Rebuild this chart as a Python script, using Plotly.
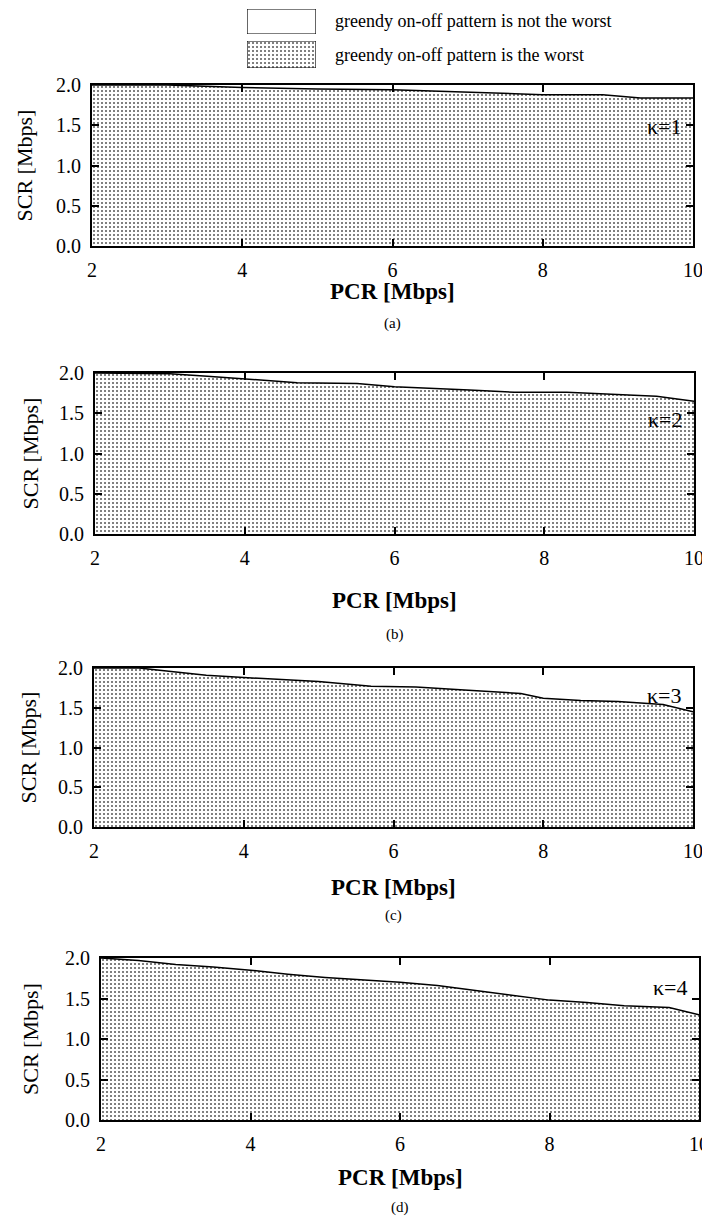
import plotly.graph_objects as go

# ---- data ----
pcr_a = [2, 3, 4, 5, 6, 7, 8, 8.8, 9.3, 10]
scr_a = [2.0, 2.0, 1.97, 1.95, 1.94, 1.91, 1.88, 1.88, 1.84, 1.84]

pcr_b = [2, 3, 3.5, 4, 4.7, 5.5, 6, 7, 7.6, 8.3, 9, 9.5, 10]
scr_b = [2.0, 1.99, 1.96, 1.93, 1.88, 1.87, 1.83, 1.79, 1.76, 1.76, 1.73, 1.71, 1.65]

pcr_c = [2, 2.6, 3, 3.5, 4, 5, 5.7, 6.3, 7, 7.7, 8, 8.5, 9, 9.6, 10]
scr_c = [2.0, 2.0, 1.96, 1.91, 1.88, 1.83, 1.77, 1.76, 1.72, 1.68, 1.62, 1.59, 1.58, 1.54, 1.45]

pcr_d = [2, 2.5, 3, 3.5, 4, 4.5, 5, 6, 6.5, 7, 7.5, 8, 8.5, 9, 9.6, 10]
scr_d = [2.0, 1.97, 1.92, 1.89, 1.85, 1.80, 1.76, 1.70, 1.66, 1.60, 1.54, 1.48, 1.45, 1.41, 1.39, 1.30]

kappa_labels = ["κ=1", "κ=2", "κ=3", "κ=4"]
kappa_y = [1.48, 1.42, 1.66, 1.63]
panel_labels = ["(a)", "(b)", "(c)", "(d)"]
x_ticks = [2, 4, 6, 8, 10]
y_ticks = [0.0, 0.5, 1.0, 1.5, 2.0]
y_ticktext = ["0.0", "0.5", "1.0", "1.5", "2.0"]
legend_labels = ["greendy on-off pattern is not the worst",
                 "greendy on-off pattern is the worst"]

# ---- layout geometry (page pixels; the page body has an 8px margin) ----
OFF = 8
W, H = 710 - OFF, 1223 - OFF
FONT = "Liberation Serif"


def px(xp):
    return min(1.0, max(0.0, (xp - OFF) / W))


def py(yp):
    return min(1.0, max(0.0, 1 - (yp - OFF) / H))


# pixel boxes (left, right, top, bottom) in page coordinates
boxes = [(92, 693, 85, 246), (95, 694, 373, 534), (94, 693, 668, 827), (101, 699, 958, 1120)]
xtitle_y = [291, 600, 887, 1177]
plabel_y = [323, 634, 915, 1207]
ytitle_x = [24, 30, 28, 30]

series = [(pcr_a, scr_a), (pcr_b, scr_b), (pcr_c, scr_c), (pcr_d, scr_d)]

pattern = dict(shape=".", size=4, solidity=0.2, fgcolor="#555555", bgcolor="white")

fig = go.Figure()
annotations = []
layout_axes = {}

for i, ((xs, ys), (l, r, t, b)) in enumerate(zip(series, boxes)):
    n = "" if i == 0 else str(i + 1)
    xa, ya = "x" + n, "y" + n
    fig.add_trace(go.Scatter(
        x=xs, y=ys, xaxis=xa, yaxis=ya, mode="lines",
        line=dict(color="black", width=1.5),
        fill="tozeroy", fillcolor="white", fillpattern=pattern,
        showlegend=False, hoverinfo="skip"))
    layout_axes["xaxis" + n] = dict(
        domain=[px(l), px(r)], range=[2, 10], anchor=ya, automargin=False,
        tickvals=x_ticks, ticks="inside", ticklen=7, tickwidth=1.5,
        showline=True, linewidth=2, linecolor="black", mirror="ticks",
        showgrid=False, zeroline=False, tickcolor="black",
        tickfont=dict(family=FONT, size=20, color="black"),
        ticklabelstandoff=5)
    layout_axes["yaxis" + n] = dict(
        domain=[py(b), py(t)], range=[0, 2], anchor=xa, automargin=False,
        tickvals=y_ticks, ticktext=y_ticktext, ticks="inside", ticklen=7, tickwidth=1.5,
        showline=True, linewidth=2, linecolor="black", mirror="ticks",
        showgrid=False, zeroline=False, tickcolor="black",
        tickfont=dict(family=FONT, size=20, color="black"),
        ticklabelstandoff=5)
    # kappa label
    annotations.append(dict(
        x=9.88, y=kappa_y[i], xref=xa, yref=ya, text=kappa_labels[i],
        showarrow=False, xanchor="right", yanchor="middle",
        font=dict(family=FONT, size=22, color="black")))
    # x title
    annotations.append(dict(
        x=px((l + r) / 2), y=py(xtitle_y[i]), xref="paper", yref="paper",
        text="<b>PCR [Mbps]</b>", showarrow=False, xanchor="center", yanchor="middle",
        font=dict(family=FONT, size=23, color="black")))
    # panel label
    annotations.append(dict(
        x=px((l + r) / 2), y=py(plabel_y[i]), xref="paper", yref="paper",
        text=panel_labels[i], showarrow=False, xanchor="center", yanchor="middle",
        font=dict(family=FONT, size=15, color="black")))
    # y title
    annotations.append(dict(
        x=px(ytitle_x[i]), y=py((t + b) / 2), xref="paper", yref="paper",
        text="SCR [Mbps]", showarrow=False, textangle=-90,
        xanchor="center", yanchor="middle",
        font=dict(family=FONT, size=22, color="black")))

# ---- legend boxes (drawn on small helper axes) ----
leg_boxes = [(247, 316, 9, 34), (247, 316, 41, 68)]
for j, (l, r, t, b) in enumerate(leg_boxes):
    k = str(5 + j)
    fig.add_trace(go.Scatter(
        x=[0, 1, 1, 0, 0], y=[0, 0, 1, 1, 0], xaxis="x" + k, yaxis="y" + k,
        mode="lines", line=dict(color="black", width=1.2),
        fill="toself", fillcolor="white",
        fillpattern=(pattern if j == 1 else None),
        showlegend=False, hoverinfo="skip", cliponaxis=False))
    layout_axes["xaxis" + k] = dict(domain=[px(l), px(r)], range=[0, 1], visible=False,
                                    anchor="y" + k, fixedrange=True, automargin=False)
    layout_axes["yaxis" + k] = dict(domain=[py(b), py(t)], range=[0, 1], visible=False,
                                    anchor="x" + k, fixedrange=True, automargin=False)
    annotations.append(dict(
        x=px(333), y=py((t + b) / 2), xref="paper", yref="paper",
        text=legend_labels[j], showarrow=False, xanchor="left", yanchor="middle",
        font=dict(family=FONT, size=18, color="black")))

fig.update_layout(
    template="none",
    width=W, height=H, margin=dict(l=0, r=0, t=0, b=0, pad=0),
    paper_bgcolor="white", plot_bgcolor="white", showlegend=False,
    annotations=annotations, **layout_axes)

fig.write_html("out.html")
